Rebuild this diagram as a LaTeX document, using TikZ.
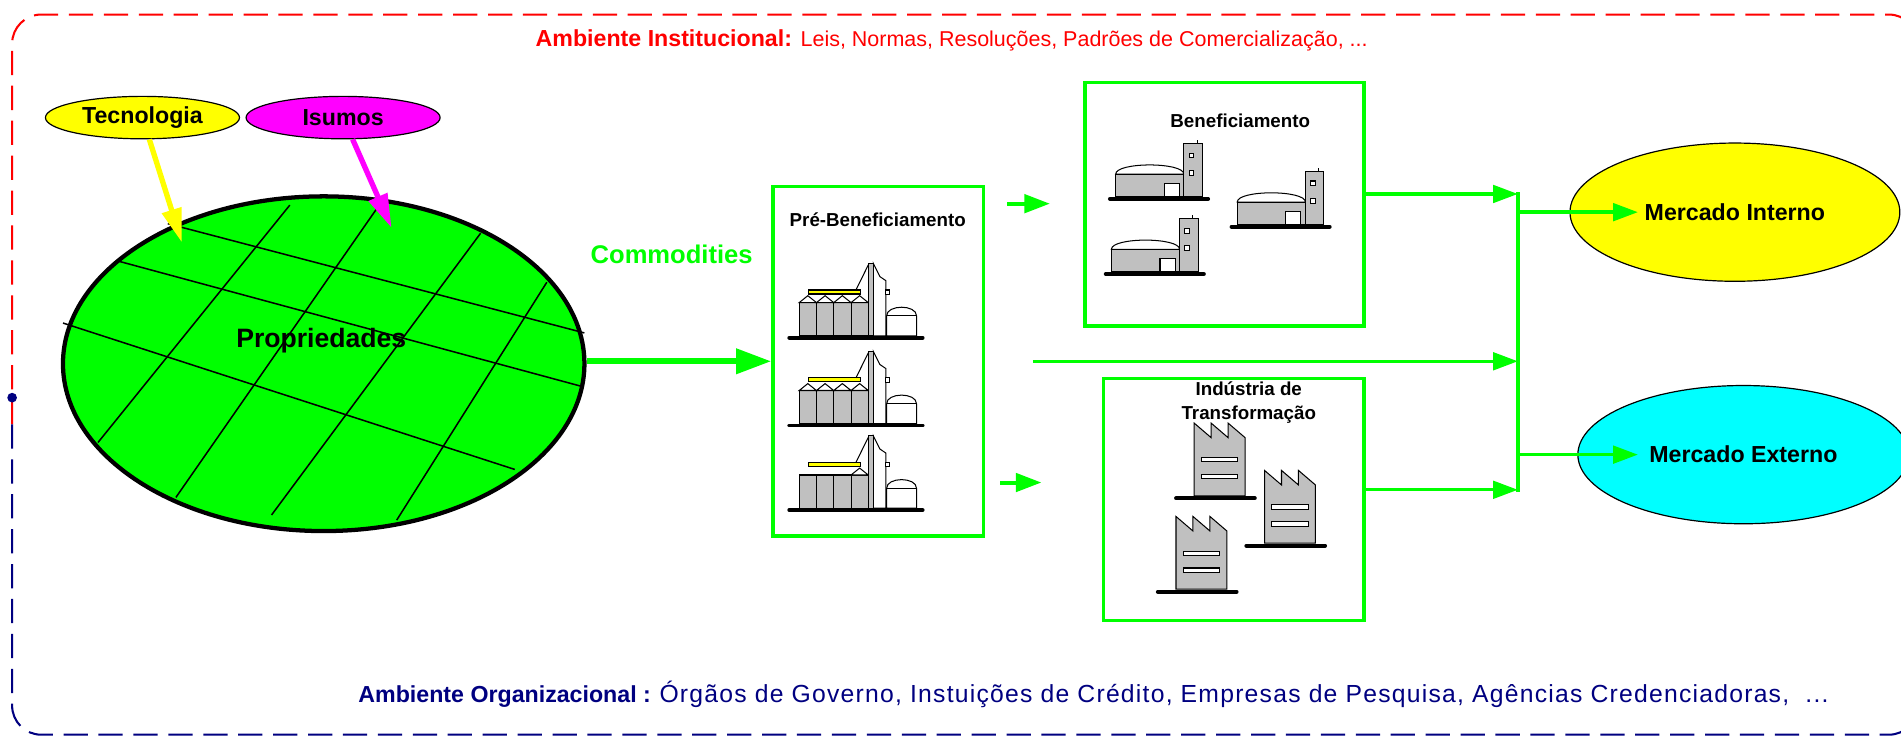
\documentclass[tikz,border=0pt]{standalone}
\usepackage{fontspec}
\setmainfont{Liberation Sans}
\usepackage{tikz}
\usetikzlibrary{positioning,calc,arrows.meta,shapes.geometric}
\definecolor{mygreen}{RGB}{0,255,0}
\definecolor{myyellow}{RGB}{255,255,0}
\definecolor{mymagenta}{RGB}{255,0,255}
\definecolor{mycyan}{RGB}{0,255,255}
\definecolor{myred}{RGB}{255,0,0}
\definecolor{mynavy}{RGB}{0,0,128}
\definecolor{mygray}{RGB}{192,192,192}

\tikzset{
	pics/silo/.style={code={
		\foreach \i in {0,...,3}
			\filldraw[fill=mygray] ({8.2+14.25*\i},-1.5) rectangle ++(14.25,-27.4);
		\foreach \i in {#1}
			\filldraw[fill=white] ({8.2+14.25*\i},-28.9) -- ++(7.1,-5.7) -- ++(7.15,5.7) -- cycle;
		\filldraw[fill=myyellow] (15.7,-36) rectangle (58.8,-39.3);
		\draw (55,-39.3) -- (65.2,-60);
		\filldraw[fill=white] (69.3,-1.5) -- (69.3,-61.3) -- (74.8,-50.3) -- (79.7,-47) -- (79.7,-1.5) -- cycle;
		\filldraw[fill=mygray] (65.2,-1.5) rectangle (69.3,-61.3);
		\filldraw[fill=white] (79.7,-35.7) rectangle (83,-39.3);
		\filldraw[fill=white] (80.3,-1.5) -- (80.3,-17.9) .. controls (80.3,-27.5) and (105,-27.5) .. (105,-17.9) -- (105,-1.5) -- cycle;
		\draw (80.3,-17.9) -- (105,-17.9);
		\draw[line width=.8mm,line cap=round] (0,0) -- (110,0);
	}},
	pics/armazem/.style={code={
		\filldraw[fill=white] (4.7,-20.3) .. controls (4.7,-30.5) and (61,-30.5) .. (61,-20.3) -- cycle;
		\filldraw[fill=mygray] (4.7,-2) rectangle (61,-20.3);
		\filldraw[fill=white] (44.8,-2) rectangle (57.2,-12.9);
		\filldraw[fill=mygray] (61,-2) rectangle (76.2,-45.4);
		\draw (72,-45.4) -- (72,-48.7);
		\filldraw[fill=white] (65.4,-33.8) rectangle (69.3,-37.7);
		\filldraw[fill=white] (65.4,-19.5) rectangle (69.3,-23.4);
		\draw[line width=.8mm,line cap=round] (0,0) -- (81,0);
	}},
	pics/fabrica/.style={code={
		\filldraw[fill=mygray] (15,-2) -- (15,-62) -- (29,-50) -- (29,-62) -- (43,-50) -- (43,-62) -- (57,-50) -- (57,-2) -- cycle;
		\filldraw[fill=white] (21,-30) rectangle (51,-33.5);
		\filldraw[fill=white] (21,-16) rectangle (51,-19.5);
		\draw[line width=.8mm,line cap=round] (0,0) -- (65,0);
	}},
}

\begin{document}
\begin{tikzpicture}[x=0.025cm,y=-0.025cm,
	lbl/.style={font=\fontsize{13.6}{16}\selectfont\bfseries},
	oval/.style={ellipse,draw,line width=.7pt,inner sep=0pt,lbl},
	stagebox/.style={draw=mygreen,line width=2pt,inner sep=0pt},
	boxtitle/.style={font=\fontsize{11}{14}\selectfont\bfseries,align=center},
	icon/.style={line width=.6pt},
	bigarrow/.style={draw=mygreen,line width=1.25mm,-{Triangle[length=7.25mm,width=5mm]}},
	smallarrow/.style={draw=mygreen,line width=.83mm,-{Triangle[length=5.25mm,width=3.75mm]}},
	flowarrow/.style={draw=mygreen,line width=.7mm,-{Triangle[length=5.1mm,width=3.6mm]}},
	inarrow/.style={line width=1.1mm,-{Triangle[length=7mm,width=4mm]}},
	]
	\useasboundingbox (0,0) rectangle (1568,608.7);
	% ambientes
	\draw[myred,line width=1.2pt,dash pattern=on 5mm off 2.2mm,rounded corners=6mm]
		(10,350) -- (10,12) -- (1582,12) -- (1582,350);
	\draw[mynavy,line width=1.2pt,dash pattern=on 5mm off 2.2mm,rounded corners=6mm]
		(10,350) -- (10,606) -- (1582,606) -- (1582,350);
	\fill[mynavy] (10,328) circle (1mm);
	\node[lbl,text=myred] (inst) at (785,33) {Ambiente Institucional: {\fontsize{12.6}{16}\selectfont\mdseries Leis, Normas, Resoluções, Padrões de Comercialização, ...}};
	\node[lbl,text=mynavy] (org) at (902,573) {Ambiente Organizacional : {\fontsize{14.5}{18}\selectfont\mdseries\addfontfeature{LetterSpace=5}Órgãos de Governo, Instuições de Crédito, Empresas de Pesquisa, Agências Credenciadoras,~ ...}};
	
	% propriedades
	\node[ellipse,draw,line width=2.5pt,fill=mygreen,inner sep=0pt,
		minimum width=10.75cm,minimum height=6.9cm] (prop) at (267,300) {};
	\begin{scope}[shift={(prop.center)},x={(215,0)},y={(0,138)},line width=.9pt]
		\draw (-0.598,-0.837) -- (1.0,-0.184);
		\draw (-0.797,-0.617) -- (0.986,0.134);
		\draw (-1.0,-0.243) -- (0.733,0.632);
		\draw (-0.866,0.471) -- (-0.130,-0.948);
		\draw (-0.567,0.799) -- (0.225,-0.975);
		\draw (-0.200,0.904) -- (0.602,-0.780);
		\draw (0.280,0.935) -- (0.856,-0.487);
	\end{scope}
	\node[font=\fontsize{15.6}{18}\selectfont\bfseries] (proptxt) at (265,281) {Propriedades};
	
	\node[oval,fill=myyellow,minimum width=4cm,minimum height=.875cm] (tec) at (117.5,97) {Tecnologia};
	\node[oval,fill=mymagenta,minimum width=4cm,minimum height=.875cm] (isu) at (283,97) {Isumos};
	\coordinate (tecTip) at (150,200);
	\coordinate (isuTip) at (323,188);
	\draw[inarrow,myyellow] (tec) -- (tecTip);
	\draw[inarrow,mymagenta] (isu) -- (isuTip);
	
	% etapas
	\node[stagebox,minimum width=4.335cm,minimum height=7.2cm] (pre) at (724.3,298) {};
	\node[boxtitle] (pretit) at (724,181) {Pré-Beneficiamento};
	\node[font=\fontsize{15}{18}\selectfont\bfseries,text=mygreen,fill=white,
		inner xsep=3.5mm,inner ysep=2.3mm] (comm) at (554,210) {Commodities};
	\draw[bigarrow] (prop.east |- pre.west) -- (pre.west);
	\pic[icon] (s1) at (651,278.5) {silo={0,1,2,3}};
	\pic[icon] (s2) at (651,351) {silo={0,1,2,3}};
	\pic[icon] (s3) at (651,420.7) {silo={3}};
	
	\node[stagebox,minimum width=5.75cm,minimum height=5.025cm] (ben) at (1010,168.5) {};
	\node[boxtitle] (bentit) at (1023,100) {Beneficiamento};
	\pic[icon] (b1) at (915.5,164) {armazem};
	\pic[icon] (b2) at (1015.8,187) {armazem};
	\pic[icon] (b3) at (912,226) {armazem};
	
	\node[stagebox,minimum width=5.375cm,minimum height=5cm] (ind) at (1017.5,412) {};
	\node[boxtitle] (indtit) at (1030,332) {Indústria de\\Transformação};
	\pic[icon] (f1) at (970,411) {fabrica};
	\pic[icon] (f2) at (1028,450) {fabrica};
	\pic[icon] (f3) at (955,488) {fabrica};
	
	\coordinate (up1) at (831,168);
	\coordinate (up2) at (866,168);
	\coordinate (dn1) at (825,398);
	\coordinate (dn2) at (859,398);
	\draw[smallarrow] (up1) -- (up2);
	\draw[smallarrow] (dn1) -- (dn2);
	
	% mercados
	\node[oval,fill=myyellow,minimum width=6.8cm,minimum height=2.85cm] (mi) at (1431,175) {Mercado Interno};
	\node[oval,fill=mycyan,minimum width=6.825cm,minimum height=2.85cm] (me) at (1438,375) {Mercado Externo};
	
	\coordinate (midS) at (852,298);
	\coordinate (j1) at (1252,160);
	\coordinate (j2) at (1252,298);
	\coordinate (j3) at (1252,404);
	\coordinate (k1) at (1252,175);
	\coordinate (k2) at (1252,375);
	\coordinate (miIn) at (1351,175);
	\coordinate (meIn) at (1351,375);
	\draw[flowarrow] (ben.east |- j1) -- (j1);
	\draw[flowarrow] (midS) -- (j2);
	\draw[flowarrow] (ind.east |- j3) -- (j3);
	\draw[mygreen,line width=.8mm,line cap=rect] (j1) -- (j3);
	\draw[flowarrow] (k1) -- (miIn);
	\draw[flowarrow] (k2) -- (meIn);
\end{tikzpicture}
\end{document}
